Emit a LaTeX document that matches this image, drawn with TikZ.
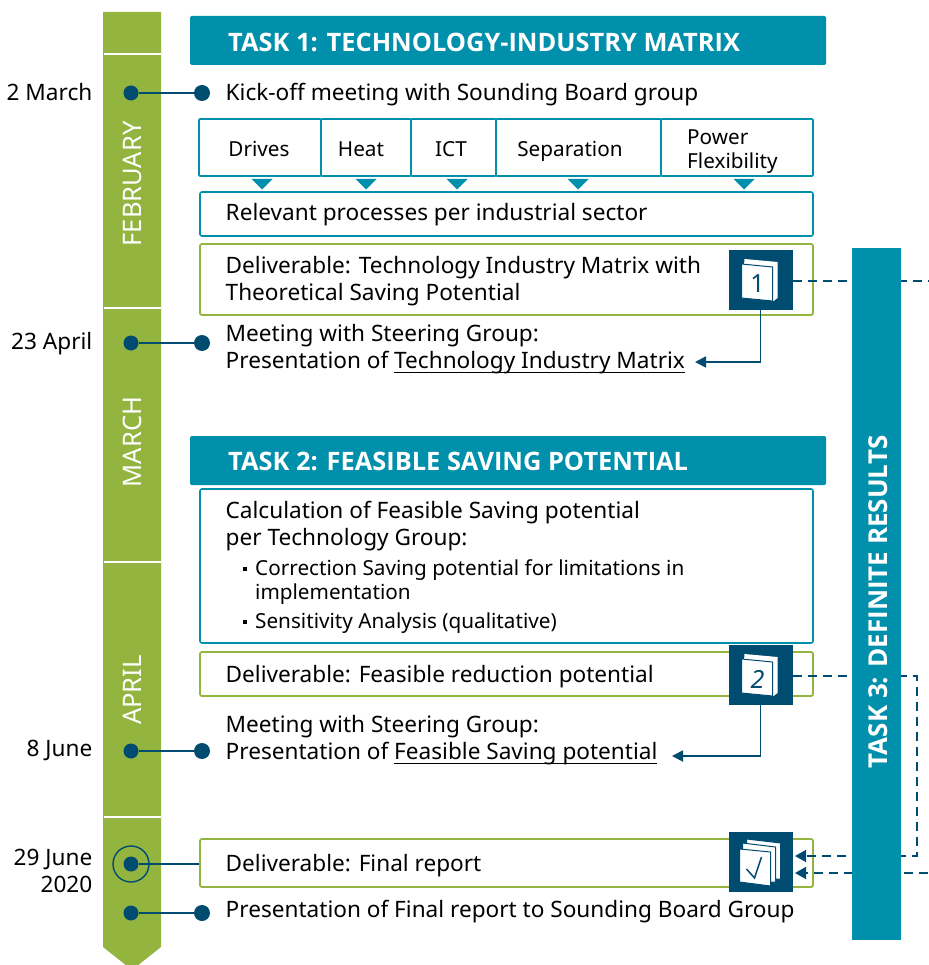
\documentclass[tikz,border=0pt]{standalone}
\usepackage{fontspec}
\setmainfont{Noto Sans}
\newfontfamily\headfont{Open Sans}[BoldFont={Open Sans Bold}]
\usetikzlibrary{arrows.meta}
\definecolor{taskteal}{HTML}{0090AB}
\definecolor{darknavy}{HTML}{004B70}
\definecolor{bandgreen}{HTML}{93B53F}
\newcommand{\lbl}{\fontsize{22.6}{27}\selectfont}
\newcommand{\lblsm}{\fontsize{20.7}{24}\selectfont}
\newsavebox{\ulinebox}
\newcommand{\ulined}[1]{\sbox{\ulinebox}{#1}\rlap{\rule[-4.5pt]{\wd\ulinebox}{1.4pt}}\usebox{\ulinebox}}
\tikzset{
    taskhead/.style={fill=taskteal,rounded corners=1.5pt,minimum width=636pt,minimum height=49pt,inner sep=0pt},
    headtext/.style={anchor=west,inner sep=0pt,text=white,font=\fontsize{25.4}{27}\headfont\bfseries},
    bluebox/.style={draw=taskteal,line width=1.6pt,rounded corners=2pt,minimum width=613pt,inner sep=0pt},
    greenbox/.style={draw=bandgreen,line width=1.8pt,rounded corners=2pt,minimum width=613pt,inner sep=0pt},
    sector/.style={draw=taskteal,line width=1.6pt,rounded corners=1pt,minimum height=57pt,inner sep=0pt,text height=22pt,text depth=4pt,font=\lblsm},
    lefttext/.style={anchor=west,inner sep=0pt,align=left,font=\lbl,yshift=-2pt},
    smalltext/.style={anchor=west,inner sep=0pt,align=left,font=\lblsm,yshift=-2pt},
    datetext/.style={anchor=east,inner sep=0pt,align=right,font=\lbl},
    monthtext/.style={rotate=90,inner sep=0pt,text=white,font=\fontsize{25.5}{27}\selectfont},
    navydot/.style={circle,fill=darknavy,inner sep=0pt,minimum size=15pt},
    sidedot/.style={circle,fill=darknavy,inner sep=0pt,minimum size=16pt},
    timeline/.style={draw=darknavy,line width=1.7pt},
    iconbox/.style={fill=darknavy,minimum width=64pt,minimum height=60pt,inner sep=0pt},
    dashlink/.style={draw=darknavy,line width=1.5pt,dash pattern=on 9pt off 6pt},
    dashback/.style={dashlink,-{Triangle[length=11pt,width=12pt]}},
    backlink/.style={draw=darknavy,line width=1.8pt,-{Triangle[length=11pt,width=11pt]}},
    pagesheet/.style={fill=white,draw=darknavy,line width=1pt,line join=round},
    pointer/.style={fill=taskteal,draw=none},
    book/.pic={
        \fill[white] (-16,-21) -- (17,-18) -- (17,18) -- (13,21) -- (-19,18) -- cycle;
        \path[pagesheet] (-19,-16) -- (12,-13) -- (12,21) -- (-19,18) -- cycle;
        \node[text=darknavy,inner sep=0pt,font=\fontsize{25}{25}\selectfont] at (-3,4) {#1};
    },
    bookstack/.pic={
        \path[pagesheet] (-14,-23) -- (20,-19) -- (20,17) -- (-14,17) -- cycle;
        \path[pagesheet] (-18,-19) -- (15,-15) -- (15,20) -- (-18,20) -- cycle;
        \path[pagesheet] (-21,-13) -- (10,-10) -- (10,24) -- (-21,20) -- cycle;
        \draw[darknavy,line width=1.5pt] (-14,7) -- (-6,16) -- (1,-5);
    },
}
\begin{document}
\begin{tikzpicture}[x=1pt,y=-1pt]
\useasboundingbox (0,0) rectangle (928,965);
%time band
\begin{scope}
\clip (0,0) rectangle (928,965);
\fill[bandgreen] (103,12) -- (161,12) -- (161,947) -- (132,970) -- (103,947) -- cycle;
\end{scope}
\foreach \sepy in {54,308,562,817}
    \draw[white,line width=1.3pt] (104,\sepy) -- (161,\sepy);
\node[monthtext] (feb) at (132,184) {FEBRUARY};
\node[monthtext] (mar) at (132,442) {MARCH};
\node[monthtext] (apr) at (132,690) {APRIL};
%task 1
\node[taskhead] (head1) at (508,40.5) {};
\node[headtext] (head1txt) at (228,42) {TASK 1: TECHNOLOGY-INDUSTRY MATRIX};
\node[datetext] (d1) at (92.5,92) {2 March};
\node[navydot] (t1) at (131,93) {};
\node[sidedot] (s1) at (202,93) {};
\draw[timeline] (t1) -- (s1);
\node[lefttext] (kick) at (225.5,93) {Kick-off meeting with Sounding Board group};
\node[sector,minimum width=122pt] (drives) at (260,147.5) {\hspace*{-2pt}Drives};
\node[sector,minimum width=90pt] (heat) at (366,147.5) {\hspace*{-10pt}Heat};
\node[sector,minimum width=85pt] (ict) at (453.5,147.5) {\hspace*{-5pt}ICT};
\node[sector,minimum width=165pt] (sep) at (578.5,147.5) {\hspace*{-17pt}Separation};
\node[sector,minimum width=152pt] (flex) at (737,147.5) {};
\node[smalltext] (flextxt) at (687,150) {Power\\Flexibility};
\foreach \tipx in {262,366,457,578,744}
    \fill[pointer] (\tipx-10.5,179) -- (\tipx+10.5,179) -- (\tipx,189.5) -- cycle;
\node[bluebox,minimum height=44pt] (proc) at (506.5,214) {};
\node[lefttext] (proctxt) at (225.5,213) {Relevant processes per industrial sector};
\node[greenbox,minimum height=71pt] (del1) at (506.5,279.5) {};
\node[lefttext] (del1txt) at (225.5,279.5) {Deliverable: Technology Industry Matrix with\\Theoretical Saving Potential};
\node[iconbox] (ic1) at (760.5,280) {};
\pic at (ic1) {book={1}};
\node[datetext] (d2) at (92.5,344) {23 April};
\node[navydot] (t2) at (131,343) {};
\node[sidedot] (s2) at (202,343) {};
\draw[timeline] (t2) -- (s2);
\node[lefttext] (meet1) at (225.5,347.5) {Meeting with Steering Group:\\Presentation of \ulined{Technology Industry Matrix}};
\coordinate (end1) at (695,362);
\draw[backlink] (ic1.south) |- (end1);
%task 2
\node[taskhead] (head2) at (508,460.5) {};
\node[headtext] (head2txt) at (228,461) {TASK 2: FEASIBLE SAVING POTENTIAL};
\node[bluebox,minimum height=154pt] (calc) at (506.5,566) {};
\node[lefttext] (calctxt) at (225.5,524.5) {Calculation of Feasible Saving potential\\per Technology Group:};
\node[smalltext] (corr) at (243,580) {\rule[4pt]{4pt}{4pt}\hspace{8pt}Correction Saving potential for limitations in\\\hspace*{12pt}implementation};
\node[smalltext] (sens) at (243,621) {\rule[4pt]{4pt}{4pt}\hspace{8pt}Sensitivity Analysis (qualitative)};
\node[greenbox,minimum height=44pt] (del2) at (506.5,674) {};
\node[lefttext] (del2txt) at (225.5,675) {Deliverable: Feasible reduction potential};
\node[iconbox] (ic2) at (760.5,675) {};
\pic at (ic2) {book={\itshape 2}};
\node[lefttext] (meet2) at (225.5,738.5) {Meeting with Steering Group:\\Presentation of \ulined{Feasible Saving potential}};
\node[datetext] (d3) at (92.5,750) {8 June};
\node[navydot] (t3) at (131,751) {};
\node[sidedot] (s3) at (202,751) {};
\draw[timeline] (t3) -- (s3);
\coordinate (end2) at (672,756);
\draw[backlink] (ic2.south) |- (end2);
%final report
\node[greenbox,minimum height=48pt] (del3) at (506.5,863) {};
\node[lefttext] (del3txt) at (225.5,864) {Deliverable: Final report};
\node[iconbox] (ic3) at (760.5,862) {};
\pic at (ic3) {bookstack};
\node[datetext] (d4) at (92.5,870.5) {29 June\\2020};
\node[navydot] (t4) at (131,864) {};
\node[circle,draw=darknavy,line width=1.4pt,minimum size=36pt,inner sep=0pt] (ring) at (t4) {};
\draw[timeline] (t4) -- (del3.west |- t4);
\node[navydot] (t5) at (131,913) {};
\node[sidedot] (s5) at (202,913) {};
\draw[timeline] (t5) -- (s5);
\node[lefttext] (pres) at (225.5,910) {Presentation of Final report to Sounding Board Group};
%task 3 links
\coordinate (bend) at (917,676);
\coordinate (in2) at (795,856);
\coordinate (in1) at (795,873);
\coordinate (out1) at (928,281);
\coordinate (out2) at (928,873);
\draw[dashlink] (ic1.east |- out1) -- (out1);
\draw[dashback] (ic2.east |- bend) -- (bend) -- (bend |- in2) -- (in2);
\draw[dashback] (out2) -- (in1);
\node[fill=taskteal,minimum width=49pt,minimum height=692pt,inner sep=0pt] (task3) at (876.5,594) {};
\node[rotate=90,inner sep=0pt,text=white,font=\fontsize{26}{27}\headfont\bfseries] (task3txt) at (878,602) {TASK 3: DEFINITE RESULTS};
\end{tikzpicture}
\end{document}
